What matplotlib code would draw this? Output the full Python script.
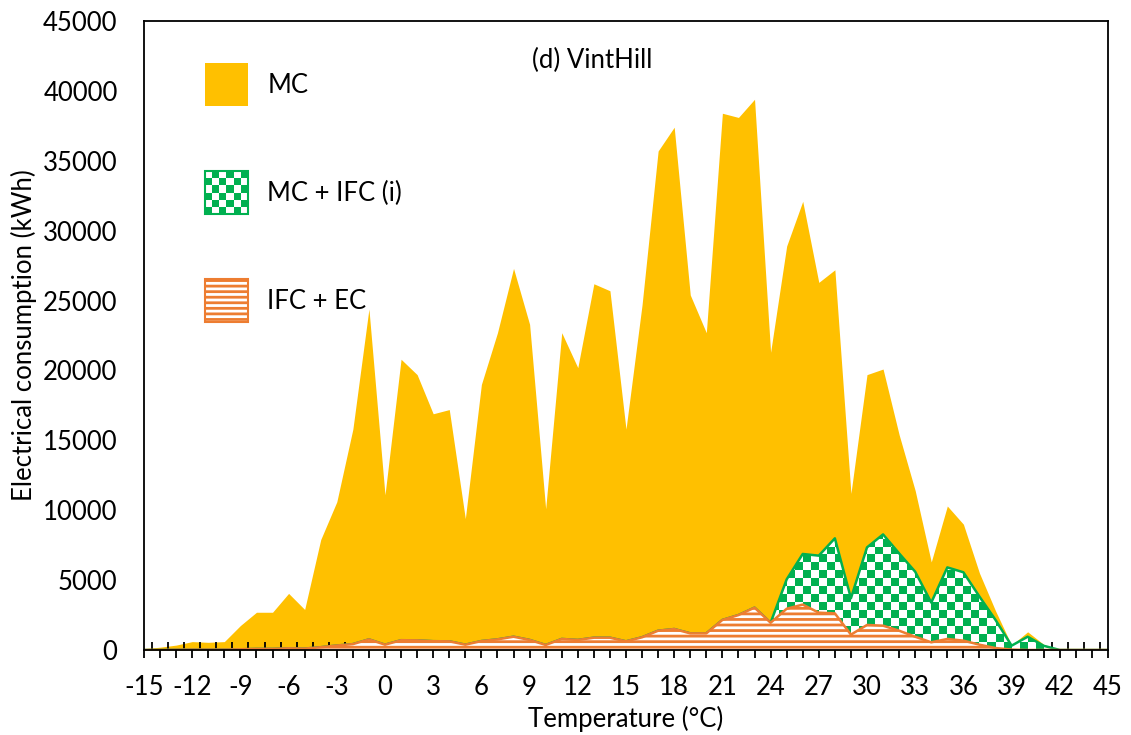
import matplotlib
matplotlib.use("Agg")
import matplotlib.pyplot as plt
import numpy as np
from matplotlib.colors import ListedColormap
from matplotlib.patches import Patch, Rectangle
from matplotlib.ticker import MultipleLocator, FuncFormatter

plt.rcParams['font.family'] = ['Lato', 'DejaVu Sans']
plt.rcParams['hatch.linewidth'] = 2.0

YELLOW = "#FFC000"
GREEN = "#00B050"
ORANGE = "#ED7D31"
FS = 18.5

temps = list(range(-15, 46))

# MC
mc = [100, 200, 350, 600, 550, 600, 1750, 2700, 2700, 4050, 2900,
      7900, 10600, 15800, 24400, 11100, 20800, 19700, 16900, 17200, 9400,
      19000, 22700, 27300, 23300, 10100, 22700, 20200, 26200, 25700, 15800,
      24700, 35700, 37400, 25400, 22700, 38400, 38100, 39400, 21300, 28900,
      32100, 26300, 27200, 11200, 19700, 20100, 15400, 11400, 6300, 10300,
      9000, 5500, 2800, 350, 1300, 400, 0, 0, 0, 0]

# MC + IFC (i)
mc_ifc = [0, 0, 20, 30, 30, 30, 50, 80, 80, 120, 100,
          200, 320, 420, 760, 380, 700, 690, 630, 620, 380,
          640, 760, 950, 720, 360, 790, 720, 880, 880, 620,
          910, 1380, 1500, 1190, 1190, 2150, 2500, 3030, 1950, 5050,
          6870, 6750, 7990, 3700, 7340, 8270, 6910, 5600, 3390, 5910,
          5560, 3820, 2150, 310, 950, 300, 0, 0, 0, 0]

# IFC + EC
ifc_ec = [0, 0, 20, 30, 30, 30, 50, 80, 80, 120, 100,
          200, 320, 420, 760, 380, 700, 690, 630, 620, 380,
          640, 760, 950, 720, 360, 790, 720, 880, 880, 620,
          910, 1380, 1500, 1190, 1190, 2150, 2500, 3030, 1950, 2950,
          3250, 2670, 2620, 1100, 1790, 1740, 1380, 950, 550, 790,
          670, 380, 140, 30, 0, 0, 0, 0, 0, 0]


class CheckerHandler:
    """Legend handle drawn as a small green/white checkerboard."""
    def legend_artist(self, legend, orig_handle, fontsize, handlebox):
        x0, y0 = -handlebox.xdescent, -handlebox.ydescent
        w, h = handlebox.width, handlebox.height
        n = 6
        tr = handlebox.get_transform()
        bg = Rectangle((x0, y0), w, h, facecolor="white", edgecolor=GREEN,
                       lw=1.5, transform=tr)
        handlebox.add_artist(bg)
        for i in range(n):
            for j in range(n):
                if (i + j) % 2 == 0:
                    handlebox.add_artist(Rectangle((x0 + i * w / n, y0 + j * h / n), w / n, h / n,
                                                   facecolor=GREEN, edgecolor="none", transform=tr))
        return bg


fig = plt.figure(figsize=(11.31, 7.35), dpi=100)
ax = fig.add_axes([144 / 1131, 85 / 735, 964 / 1131, 629 / 735])

ax.fill_between(temps, mc, color=YELLOW, lw=0, zorder=1)

# checkerboard clipped to the MC + IFC area
green_area = ax.fill_between(temps, mc_ifc, facecolor="none", edgecolor="none", zorder=2)
ny, nx = 79, 120
check = np.add.outer(np.arange(ny), np.arange(nx)) % 2
im = ax.imshow(check, extent=(-15, 45, 0, 45000), origin="lower", aspect="auto",
               cmap=ListedColormap(["white", GREEN]), interpolation="nearest", zorder=2)
im.set_clip_path(green_area.get_paths()[0], ax.transData)
ax.plot(temps, mc_ifc, color=GREEN, lw=1.8, zorder=2.5)

ax.fill_between(temps, ifc_ec, facecolor="white", edgecolor=ORANGE, hatch="---",
                lw=0, zorder=3)
ax.plot(temps, ifc_ec, color=ORANGE, lw=1.8, zorder=3.5)

ax.set_xlim(-15, 45)
ax.set_ylim(0, 45000)

ax.xaxis.set_major_locator(MultipleLocator(1))
ax.xaxis.set_minor_locator(MultipleLocator(1, offset=0.5))
ax.xaxis.set_major_formatter(FuncFormatter(lambda v, p: f"{int(round(v))}" if int(round(v)) % 3 == 0 else ""))
ax.yaxis.set_major_locator(MultipleLocator(5000))
ax.tick_params(axis="x", which="major", direction="out", length=6, width=1.3, pad=12, labelsize=FS)
ax.tick_params(axis="x", which="minor", direction="in", length=6, width=1.3)
ax.tick_params(axis="y", length=0, pad=19, labelsize=FS)
for s in ax.spines.values():
    s.set_linewidth(1.3)
    s.set_zorder(5)

ax.set_xlabel("Temperature (°C)", fontsize=FS, labelpad=4)
ax.set_ylabel("Electrical consumption (kWh)", fontsize=FS, labelpad=4)
ax.text(0.465, 0.938, "(d) VintHill", transform=ax.transAxes, ha="center", va="center", fontsize=FS)

handles = [Patch(facecolor=YELLOW, edgecolor="none"),
           Patch(facecolor="white"),
           Patch(facecolor="white", edgecolor=ORANGE, hatch="---", lw=1.5)]
leg = ax.legend(handles, ["MC", "MC + IFC (i)", "IFC + EC"],
                handler_map={handles[1]: CheckerHandler()},
                loc="upper left", bbox_to_anchor=(61 / 964, 587 / 629),
                frameon=False, fontsize=FS, handlelength=1.67, handleheight=2.2,
                labelspacing=2.53, handletextpad=0.75, borderpad=0, borderaxespad=0)

fig.savefig("out.png", dpi=100)
